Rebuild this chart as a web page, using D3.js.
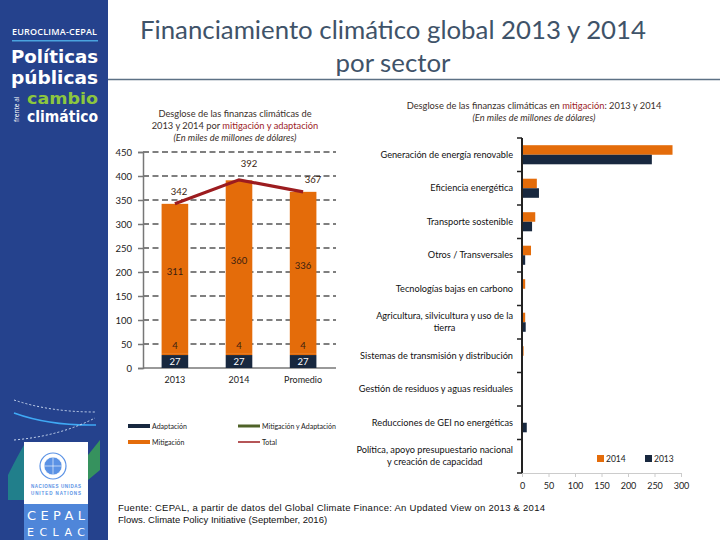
<!DOCTYPE html>
<html><head><meta charset="utf-8">
<script src="https://cdn.jsdelivr.net/npm/d3@7"></script>
<style>
html,body{margin:0;padding:0;background:#fff;}
svg{display:block;}
</style></head>
<body>
<svg id="c" width="720" height="540"></svg>
<script>
// ---- Data ----
const leftCategories = ["2013", "2014", "Promedio"];
const adaptacion = [27, 27, 27];
const mitigacionAdaptacion = [4, 4, 4];
const mitigacion = [311, 360, 336];
const total = [342, 392, 367];
const leftTicks = [0, 50, 100, 150, 200, 250, 300, 350, 400, 450];

const sectors = [
  ["Generación de energía renovable"],
  ["Eficiencia energética"],
  ["Transporte sostenible"],
  ["Otros / Transversales"],
  ["Tecnologías bajas en carbono"],
  ["Agricultura, silvicultura y uso de la", "tierra"],
  ["Sistemas de transmisión y distribución"],
  ["Gestión de residuos y aguas residuales"],
  ["Reducciones de GEI no energéticas"],
  ["Política, apoyo presupuestario nacional", "y creación de capacidad"]
];
const values2014 = [284, 28, 25, 17, 6, 6, 3, 0.5, 0.5, 0.5];
const values2013 = [245, 32, 19, 6, 1, 7, 1, 0.5, 9, 0.5];
const rightTicks = [0, 50, 100, 150, 200, 250, 300];

const ORANGE = "#e46c0a", NAVY = "#18283f", RED = "#9c1c1f", GREEN = "#4f6228";
const FONT = "Lato, 'Open Sans', sans-serif";

const svg = d3.select("#c");

// ---- Sidebar ----
const side = svg.append("g");
const SF = "'DejaVu Sans Condensed', 'DejaVu Sans', sans-serif";
side.append("rect").attr("x", 0).attr("y", 0).attr("width", 108).attr("height", 540).attr("fill", "#25428d");
side.append("text").attr("x", 12).attr("y", 35).attr("fill", "#fff").attr("font-family", "'Open Sans', sans-serif")
  .attr("font-size", 9).attr("font-weight", 600).attr("textLength", 85).text("EUROCLIMA-CEPAL");
side.append("rect").attr("x", 12).attr("y", 40).attr("width", 86).attr("height", 1.5).attr("fill", "#4aa3df");
side.append("text").attr("x", 11).attr("y", 63).attr("fill", "#fff").attr("font-family", SF)
  .attr("font-size", 18).attr("font-weight", 700).attr("textLength", 87).attr("lengthAdjust", "spacingAndGlyphs").text("Políticas");
side.append("text").attr("x", 11).attr("y", 84).attr("fill", "#fff").attr("font-family", SF)
  .attr("font-size", 18).attr("font-weight", 700).attr("textLength", 87).attr("lengthAdjust", "spacingAndGlyphs").text("públicas");
side.append("text").attr("x", 27).attr("y", 104).attr("fill", "#8cc63e").attr("font-family", SF)
  .attr("font-size", 16).attr("font-weight", 700).attr("textLength", 71).attr("lengthAdjust", "spacingAndGlyphs").text("cambio");
side.append("text").attr("x", 27).attr("y", 122).attr("fill", "#fff").attr("font-family", SF)
  .attr("font-size", 16).attr("font-weight", 700).attr("textLength", 71).attr("lengthAdjust", "spacingAndGlyphs").text("climático");
side.append("text").attr("transform", "translate(19,122) rotate(-90)").attr("fill", "#fff")
  .attr("font-family", "'Open Sans', sans-serif").attr("font-size", 6.5).text("frente al");
// decorative arcs
side.append("path").attr("d", "M14,400 Q50,412 95,412").attr("stroke", "#c9d8f0").attr("stroke-width", 1).attr("stroke-dasharray", "2,2").attr("fill", "none");
side.append("path").attr("d", "M14,413 Q50,426 96,425").attr("stroke", "#3fa9f5").attr("stroke-width", 1.5).attr("fill", "none");
side.append("path").attr("d", "M14,440 Q60,436 95,418").attr("stroke", "#c9d8f0").attr("stroke-width", 1).attr("stroke-dasharray", "2,2").attr("fill", "none");
side.append("path").attr("d", "M8,475 Q18,455 24,445 L24,500 L8,500 Z").attr("fill", "#1f9a8a").attr("opacity", 0.7);
side.append("path").attr("d", "M88,455 L100,440 L100,470 L88,480 Z").attr("fill", "#3db54a").attr("opacity", 0.7);
// UN box
side.append("rect").attr("x", 24).attr("y", 442).attr("width", 64).attr("height", 62).attr("fill", "#fff");
const un = side.append("g").attr("transform", "translate(53,466)");
un.append("circle").attr("r", 13).attr("fill", "none").attr("stroke", "#5b92e5").attr("stroke-width", 1.2);
un.append("circle").attr("r", 9).attr("fill", "#5b92e5");
un.append("circle").attr("r", 9).attr("fill", "none").attr("stroke", "#fff").attr("stroke-width", 0.6);
un.append("line").attr("x1", -9).attr("x2", 9).attr("y1", 0).attr("y2", 0).attr("stroke", "#fff").attr("stroke-width", 0.6);
un.append("line").attr("y1", -9).attr("y2", 9).attr("x1", 0).attr("x2", 0).attr("stroke", "#fff").attr("stroke-width", 0.6);
side.append("text").attr("x", 56).attr("y", 488).attr("text-anchor", "middle").attr("fill", "#5b92e5")
  .attr("font-family", "'Liberation Sans', sans-serif").attr("font-size", 4.5).attr("font-weight", 700).attr("textLength", 50).text("NACIONES UNIDAS");
side.append("text").attr("x", 56).attr("y", 495).attr("text-anchor", "middle").attr("fill", "#5b92e5")
  .attr("font-family", "'Liberation Sans', sans-serif").attr("font-size", 4.5).attr("font-weight", 700).attr("textLength", 50).text("UNITED NATIONS");
side.append("rect").attr("x", 24).attr("y", 504).attr("width", 64).attr("height", 36).attr("fill", "#4f86d9");
side.append("text").attr("x", 56).attr("y", 520).attr("text-anchor", "middle").attr("fill", "#fff")
  .attr("font-family", "'DejaVu Sans', sans-serif").attr("font-size", 13).attr("textLength", 58).text("CEPAL");
side.append("text").attr("x", 56).attr("y", 536).attr("text-anchor", "middle").attr("fill", "#fff")
  .attr("font-family", "'DejaVu Sans', sans-serif").attr("font-size", 11).attr("textLength", 58).text("ECLAC");

// ---- Main title ----
svg.append("text").attr("x", 393).attr("y", 39).attr("text-anchor", "middle").attr("fill", "#3f5369")
  .attr("font-family", FONT).attr("font-size", 25.8).text("Financiamiento climático global 2013 y 2014");
svg.append("text").attr("x", 393).attr("y", 72).attr("text-anchor", "middle").attr("fill", "#3f5369")
  .attr("font-family", FONT).attr("font-size", 25.8).text("por sector");
svg.append("line").attr("x1", 108).attr("x2", 720).attr("y1", 79.5).attr("y2", 79.5).attr("stroke", "#5d7185").attr("stroke-width", 1.5);

// ---- Left chart ----
const L = svg.append("g");
const lt = L.append("text").attr("text-anchor", "middle").attr("font-family", FONT).attr("font-size", 9.3).attr("fill", "#3a2f2a");
lt.append("tspan").attr("x", 235).attr("y", 117).text("Desglose de las finanzas climáticas de");
const lt2 = lt.append("tspan").attr("x", 235).attr("y", 129);
lt2.append("tspan").text("2013 y 2014 por ");
lt2.append("tspan").attr("fill", RED).text("mitigación y adaptación");
lt.append("tspan").attr("x", 235).attr("y", 141).attr("font-style", "italic").text("(En miles de millones de dólares)");

const yL = d3.scaleLinear().domain([0, 450]).range([368, 152]);
const xL = d3.scaleBand().domain(leftCategories).range([143, 335]).paddingInner(0.585).paddingOuter(0.29);

// gridlines
L.append("g").selectAll("line").data(leftTicks.filter(d => d > 0)).join("line")
  .attr("x1", 143).attr("x2", 336).attr("y1", d => yL(d)).attr("y2", d => yL(d))
  .attr("stroke", "#555").attr("stroke-width", 1.5).attr("stroke-dasharray", "6,3.5");
const yAxisL = d3.axisLeft(yL).tickValues(leftTicks).tickSize(5).tickPadding(6);
const gYL = L.append("g").attr("transform", "translate(143,0)").call(yAxisL);
gYL.select(".domain").attr("stroke", "#777").attr("stroke-width", 1.5);
gYL.selectAll(".tick line").attr("stroke", "#777").attr("stroke-width", 1.5);
gYL.selectAll("text").attr("font-family", FONT).attr("font-size", 9.5).attr("fill", "#222");
const gXL = L.append("g").attr("transform", "translate(0,368)").call(d3.axisBottom(xL).tickSize(0).tickPadding(9));
gXL.select(".domain").attr("stroke", "#777").attr("stroke-width", 1.5).attr("d", "M143,0H336");
gXL.selectAll("text").attr("font-family", FONT).attr("font-size", 9).attr("fill", "#222");

const stacks = leftCategories.map((c, i) => {
  const a1 = adaptacion[i], b1 = a1 + mitigacionAdaptacion[i], m1 = b1 + mitigacion[i];
  return { c, segs: [
    { y0: 0, y1: a1, color: NAVY, v: adaptacion[i], k: "a" },
    { y0: a1, y1: b1, color: ORANGE, v: mitigacionAdaptacion[i], k: "b" },
    { y0: b1, y1: m1, color: ORANGE, v: mitigacion[i], k: "m" }
  ]};
});
const barG = L.append("g"), lblG = L.append("g");
stacks.forEach(s => {
  s.segs.forEach(g => {
    barG.append("rect").attr("x", xL(s.c)).attr("width", xL.bandwidth())
      .attr("y", yL(g.y1)).attr("height", yL(g.y0) - yL(g.y1)).attr("fill", g.color);
    let ty;
    if (g.k === "a") ty = (yL(g.y0) + yL(g.y1)) / 2 + 3.5;
    else if (g.k === "b") ty = yL(g.y1) - 4;
    else ty = (yL(g.y0) + yL(g.y1)) / 2 - 3;
    lblG.append("text").attr("x", xL(s.c) + xL.bandwidth() / 2).attr("y", ty).attr("text-anchor", "middle")
      .attr("font-family", FONT).attr("font-size", 9.5)
      .attr("fill", g.k === "a" ? "#fff" : "#3b1e10").text(g.v);
  });
});
const line = d3.line().x((d, i) => xL(leftCategories[i]) + xL.bandwidth() / 2).y(d => yL(d));
L.append("path").datum(total).attr("d", line).attr("fill", "none").attr("stroke", RED).attr("stroke-width", 3.2);
const totalDx = [4, 10, 10], totalDy = [-9, -13, -9];
L.selectAll(".tl").data(total).join("text")
  .attr("x", (d, i) => xL(leftCategories[i]) + xL.bandwidth() / 2 + totalDx[i])
  .attr("y", (d, i) => yL(d) + totalDy[i]).attr("text-anchor", "middle")
  .attr("font-family", FONT).attr("font-size", 9.5).attr("fill", "#3b1e10").text(d => d);

// legend
const legItems = [
  { t: "Adaptación", c: NAVY, x: 128, y: 426, w: 4 },
  { t: "Mitigación y Adaptación", c: GREEN, x: 238, y: 426, w: 3 },
  { t: "Mitigación", c: ORANGE, x: 128, y: 442, w: 4 },
  { t: "Total", c: RED, x: 238, y: 442, w: 1.5 }
];
legItems.forEach(d => {
  L.append("line").attr("x1", d.x).attr("x2", d.x + 22).attr("y1", d.y).attr("y2", d.y).attr("stroke", d.c).attr("stroke-width", d.w);
  L.append("text").attr("x", d.x + 24).attr("y", d.y + 2.5).attr("font-family", FONT).attr("font-size", 7).attr("fill", "#222").text(d.t);
});

// ---- Right chart ----
const R = svg.append("g");
const rt = R.append("text").attr("text-anchor", "middle").attr("font-family", FONT).attr("font-size", 9.3).attr("fill", "#3a2f2a");
const rt1 = rt.append("tspan").attr("x", 534).attr("y", 109);
rt1.append("tspan").text("Desglose de las finanzas climáticas en ");
rt1.append("tspan").attr("fill", RED).text("mitigación");
rt1.append("tspan").text(": 2013 y 2014");
rt.append("tspan").attr("x", 534).attr("y", 121).attr("font-style", "italic").text("(En miles de millones de dólares)");

const sectorKeys = sectors.map(d => d.join(" "));
const yR = d3.scaleBand().domain(sectorKeys).range([138, 473]).paddingInner(0.43).paddingOuter(0.215);
const xR = d3.scaleLinear().domain([0, 300]).range([522, 681]);
const half = yR.bandwidth() / 2;

const gXR = R.append("g").attr("transform", "translate(0,473)").call(d3.axisBottom(xR).tickValues(rightTicks).tickSize(4).tickPadding(6));
gXR.select(".domain").attr("stroke", "#ccc");
gXR.selectAll(".tick line").attr("stroke", "#ccc");
gXR.selectAll("text").attr("font-family", FONT).attr("font-size", 9).attr("fill", "#222");

R.selectAll(".b14").data(values2014).join("rect")
  .attr("x", xR(0)).attr("y", (d, i) => yR(sectorKeys[i])).attr("height", half)
  .attr("width", d => xR(d) - xR(0)).attr("fill", ORANGE);
R.selectAll(".b13").data(values2013).join("rect")
  .attr("x", xR(0)).attr("y", (d, i) => yR(sectorKeys[i]) + half).attr("height", half)
  .attr("width", d => xR(d) - xR(0)).attr("fill", NAVY);

// vertical axis with boundary ticks
R.append("line").attr("x1", 522).attr("x2", 522).attr("y1", 138).attr("y2", 473).attr("stroke", "#222").attr("stroke-width", 2);
const step = (473 - 138) / sectors.length;
R.selectAll(".bt").data(d3.range(sectors.length + 1)).join("line")
  .attr("x1", 517).attr("x2", 522).attr("y1", i => 138 + i * step).attr("y2", i => 138 + i * step)
  .attr("stroke", "#222").attr("stroke-width", 1.5);

const LF = 9.2;
sectors.forEach((lines, i) => {
  const cy = yR(sectorKeys[i]) + half;
  const t = R.append("text").attr("font-family", FONT).attr("font-size", LF).attr("fill", "#111");
  if (lines.length === 1) {
    t.attr("x", 513).attr("y", cy + 3).attr("text-anchor", "end").text(lines[0]);
  } else {
    const tmp = R.append("text").attr("font-family", FONT).attr("font-size", LF).text(lines[0]);
    const w = tmp.node().getComputedTextLength(); tmp.remove();
    const cx = 513 - w / 2;
    t.attr("text-anchor", "middle");
    t.append("tspan").attr("x", cx).attr("y", cy - 3).text(lines[0]);
    t.append("tspan").attr("x", cx).attr("y", cy + 9).text(lines[1]);
  }
});

// right legend
[{ t: "2014", c: ORANGE, x: 597 }, { t: "2013", c: NAVY, x: 645 }].forEach(d => {
  R.append("rect").attr("x", d.x).attr("y", 455).attr("width", 7).attr("height", 7).attr("fill", d.c);
  R.append("text").attr("x", d.x + 9).attr("y", 462).attr("font-family", FONT).attr("font-size", 8.5).attr("fill", "#222").text(d.t);
});

// ---- Footer ----
const ft = svg.append("text").attr("font-family", "'Liberation Sans', Arial, sans-serif").attr("font-size", 9.5).attr("fill", "#111");
ft.append("tspan").attr("x", 118).attr("y", 511).attr("textLength", 427).text("Fuente: CEPAL, a partir de datos del Global Climate Finance: An Updated View on 2013 & 2014");
ft.append("tspan").attr("x", 118).attr("y", 523).text("Flows. Climate Policy Initiative (September, 2016)");
</script>
</body></html>
